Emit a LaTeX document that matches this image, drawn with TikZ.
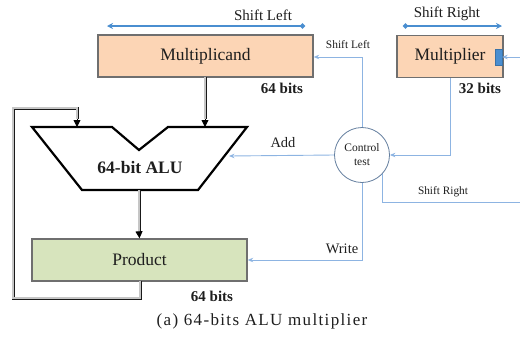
\documentclass[tikz,border=0pt]{standalone}
\usepackage{fontspec}
\setmainfont{Liberation Serif}
\newfontfamily\capfont[LetterSpace=8]{Liberation Serif}
\usetikzlibrary{arrows.meta,calc}
\definecolor{peach}{HTML}{FCD5B5}
\definecolor{lgreen}{HTML}{D7E4BD}
\definecolor{boxedge}{HTML}{6F6F6F}
\definecolor{sblue}{HTML}{4A8ED0}
\definecolor{cblue}{HTML}{8DB4E2}
\definecolor{txt}{HTML}{1E1E1E}
\tikzset{
  regbox/.style={draw=boxedge, line width=1.4pt, minimum height=42pt, inner sep=0pt, text=txt, font=\fontsize{17.5}{20}\selectfont},
  dbl/.style={draw=black!90, double=gray!45, line width=0.75pt, double distance=1.5pt},
  tipline/.style={black, line width=0.9pt, -{Triangle[length=7pt,width=7pt]}},
  shiftarrow/.style={sblue, line width=1.6pt},
  ctrlline/.style={cblue, line width=0.9pt},
  ctrltip/.style={-{Stealth[length=5.5pt,width=4.5pt]}},
  lbl/.style={text=txt, inner sep=0pt},
}
\begin{document}
\begin{tikzpicture}[x=1pt,y=-1pt]
\useasboundingbox (0,0) rectangle (520,341);
% boxes
\node[regbox, fill=peach, minimum width=215pt] (mcand) at (205.5,56) {Multiplicand};
\node[regbox, fill=peach, minimum width=106pt] (mplier) at (450,56.5) {Multiplier};
\node[regbox, fill=lgreen, minimum width=215pt] (prod) at (139.5,260) {Product};
\node[draw=sblue!80!black, fill=sblue, line width=0.4pt, minimum width=7pt, minimum height=16pt, inner sep=0pt] (mbit) at (498.5,57) {};
% ALU
\coordinate (a1) at (32,127);
\coordinate (a2) at (112,127);
\coordinate (a3) at (139,150);
\coordinate (a4) at (168,127);
\coordinate (a5) at (247,127);
\coordinate (a6) at (198,190);
\coordinate (a7) at (82,190);
\draw[black, line width=2.2pt, line join=miter] (a1) -- (a2) -- (a3) -- (a4) -- (a5) -- (a6) -- (a7) -- cycle;
\node[lbl, font=\bfseries\fontsize{17.5}{20}\selectfont] (alu) at (140,168) {64-bit ALU};
\coordinate (aluin1) at (77,127);
\coordinate (aluin2) at (205,127);
\coordinate (aluout) at (139,190);
\coordinate (aluadd) at (229,156);
% control
\node[draw=cblue!70!black, line width=0.8pt, circle, minimum size=55pt, inner sep=0pt, align=center, text=txt, font=\fontsize{11.5}{14}\selectfont] (ctrl) at (362,155) {Control\\test};
% shift arrows above registers
\coordinate (slA) at (107,26);
\coordinate (slB) at (305,26);
\draw[shiftarrow, {Stealth[length=6pt,width=6pt]}-{Circle[length=5pt]}] (slA) -- (slB);
\coordinate (srA) at (403,26);
\coordinate (srB) at (502,26);
\draw[shiftarrow, {Circle[length=5pt]}-{Stealth[length=6pt,width=6pt]}] (srA) -- (srB);
\node[lbl, font=\fontsize{15}{18}\selectfont] (tsl) at (263,15) {Shift Left};
\node[lbl, font=\fontsize{15}{18}\selectfont] (tsr) at (447,14) {Shift Right};
% bit labels
\node[lbl, font=\bfseries\fontsize{15}{18}\selectfont] (b1) at (282,88) {64 bits};
\node[lbl, font=\bfseries\fontsize{15}{18}\selectfont] (b2) at (480,88) {32 bits};
\node[lbl, font=\bfseries\fontsize{15}{18}\selectfont] (b3) at (212,296) {64 bits};
% blue arrow into multiplier bit
\coordinate (inR) at (520,57);
\draw[ctrlline, ctrltip] (inR) -- (mbit.east);
% control lines
\draw[ctrlline, ctrltip] (ctrl.north) |- (mcand.east |- 0,57);
\node[lbl, font=\fontsize{11.4}{14}\selectfont] (csl) at (348,45) {Shift Left};
\draw[ctrlline, ctrltip] (mplier.south -| 450,0) |- (ctrl.east);
\draw[ctrlline, ctrltip] (ctrl.west) -- (aluadd);
\node[lbl, font=\fontsize{14.5}{17}\selectfont] (cadd) at (283,143) {Add};
\coordinate (srE) at (520,202);
\draw[ctrlline] (ctrl.-43) |- (srE);
\node[lbl, font=\fontsize{11.3}{14}\selectfont] (csr) at (443,192) {Shift Right};
\draw[ctrlline, ctrltip] (ctrl.south) |- (prod.east);
\node[lbl, font=\fontsize{14.5}{17}\selectfont] (cw) at (342,249) {Write};
% datapath double lines
\coordinate (m1) at (205,77);
\coordinate (m2) at (205,119);
\draw[dbl] (m1) -- (m2);
\draw[tipline] (m2) -- (aluin2);
\coordinate (o2) at (139,231);
\draw[dbl] (aluout) -- (o2);
\draw[tipline] (o2) -- (prod.north);
\coordinate (f0) at (140,281);
\coordinate (f1) at (140,298);
\coordinate (f2) at (13,298);
\coordinate (f3) at (13,108);
\coordinate (f4) at (77,108);
\coordinate (f5) at (77,119);
\draw[dbl] (f0) -- (f1) -- (f2) -- (f3) -- (f4) -- (f5);
\draw[tipline] (f5) -- (aluin1);
% caption
\node[lbl, font=\capfont\fontsize{17}{20}\selectfont] (cap) at (262,321) {(a) 64-bits ALU multiplier};
\end{tikzpicture}
\end{document}
